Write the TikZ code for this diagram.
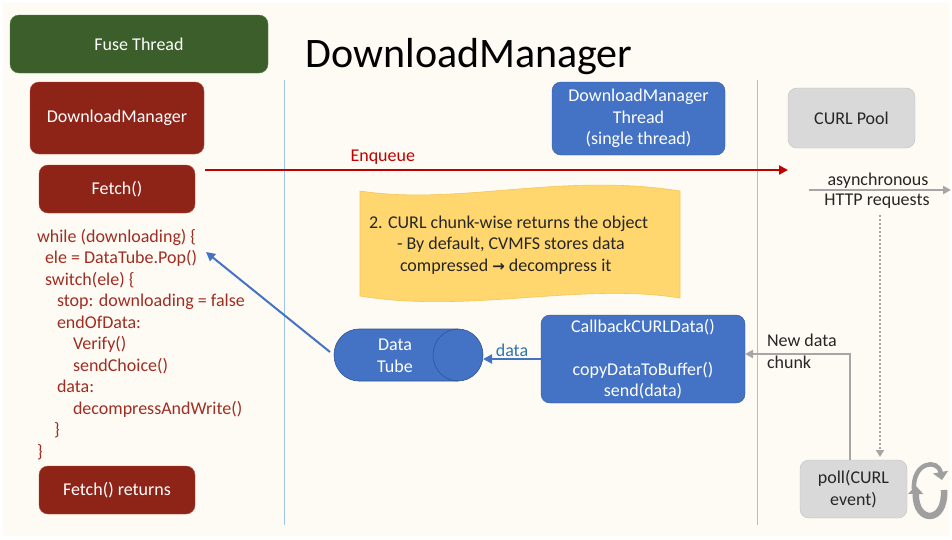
\documentclass[tikz,border=0pt]{standalone}
\usepackage{fontspec}
\setmainfont{Carlito}
\newfontfamily\symfont{DejaVu Sans}
\usetikzlibrary{arrows.meta}
\definecolor{bgc}{HTML}{FDFBF3}
\definecolor{fgreen}{HTML}{3B5E2A}
\definecolor{fgreenb}{HTML}{5A7E45}
\definecolor{dred}{HTML}{8E2318}
\definecolor{dredb}{HTML}{B0473A}
\definecolor{codered}{HTML}{A02D23}
\definecolor{enqred}{HTML}{C00000}
\definecolor{mblue}{HTML}{4472C4}
\definecolor{mblueb}{HTML}{2F5597}
\definecolor{lblue}{HTML}{2E75B6}
\definecolor{vline}{HTML}{9DC3E6}
\definecolor{gbox}{HTML}{D9D9D9}
\definecolor{gboxb}{HTML}{BFBFBF}
\definecolor{garrow}{HTML}{A6A6A6}
\definecolor{dtext}{HTML}{262626}
\definecolor{wave}{HTML}{FFD76E}
\definecolor{waveb}{HTML}{F5C65A}
\begin{document}
\begin{tikzpicture}[x=1pt,y=-1pt,
  every node/.style={font=\fontsize{18}{21.5}\selectfont, inner sep=0pt, outer sep=0pt},
  rbox/.style={rounded corners=9pt, align=center},
  greenbox/.style={rbox, fill=fgreen, draw=fgreenb, text=white},
  redbox/.style={rbox, fill=dred, draw=dredb, text=white},
  bluebox/.style={rbox, fill=mblue, draw=mblueb, text=white},
  graybox/.style={rbox, fill=gbox, draw=gboxb, text=dtext},
  codeline/.style={anchor=base west, text=codered},
  yline/.style={anchor=base west, text=black!85},
  redarrow/.style={draw=enqred, line width=2pt, -{Triangle[length=9pt,width=9pt]}},
  grayarrow/.style={draw=garrow, line width=2pt, -{Triangle[length=8pt,width=8pt]}},
  bluearrow/.style={draw=mblue, line width=2pt, -{Triangle[length=9pt,width=9pt]}},
  cyc/.style={draw=gray!75, -{Triangle[length=8pt,width=15pt]}},
  sepline/.style={draw=vline, line width=1pt}
]
\useasboundingbox (0,0) rectangle (952,539);
\fill[white] (0,0) rectangle (952,539);
\fill[bgc] (3,3) rectangle (949,536);

% separators
\coordinate (v1t) at (284,80); \coordinate (v1b) at (284,525);
\coordinate (v2t) at (757,80); \coordinate (v2b) at (757,525);
\draw[sepline] (v1t) -- (v1b);
\draw[sepline] (v2t) -- (v2b);

% title
\node (title) at (469,57) {\fontsize{42}{48}\selectfont DownloadManager};

% left column
\node[greenbox, minimum width=258pt, minimum height=58pt] (fuse) at (139,44) {Fuse Thread};
\node[redbox, minimum width=174pt, minimum height=72pt] (dm) at (117,118) {DownloadManager};
\node[redbox, minimum width=156pt, minimum height=48pt] (fetch) at (117,189) {Fetch()};
\node[redbox, minimum width=156pt, minimum height=48pt] (fetchret) at (117,490) {Fetch() returns};

\node[codeline] (c1)  at (37,242)   {while (downloading) \{};
\node[codeline] (c2)  at (45,263.5) {ele = DataTube.Pop()};
\node[codeline] (c3)  at (45,285)   {switch(ele) \{};
\node[codeline] (c4)  at (57,306.5) {stop: downloading = false};
\node[codeline] (c5)  at (57,328)   {endOfData:};
\node[codeline] (c6)  at (73,349.5) {Verify()};
\node[codeline] (c7)  at (73,371)   {sendChoice()};
\node[codeline] (c8)  at (57,392.5) {data:};
\node[codeline] (c9)  at (73,414)   {decompressAndWrite()};
\node[codeline] (c10) at (54,435.5) {\}};
\node[codeline] (c11) at (37,457)   {\}};

% middle column
\node[bluebox, minimum width=173pt, minimum height=73pt] (dmt) at (638.5,118.5)
  {DownloadManager\\Thread\\(single thread)};

% wave banner
\fill[wave, draw=waveb, line width=0.6pt]
  (360,191) .. controls (460,206) and (560,172) .. (680,191)
  -- (680,298) .. controls (580,282) and (470,314) .. (360,296) -- cycle;
\node[yline] (w1) at (369,228) {2. CURL chunk-wise returns the object};
\node[yline] (w2) at (397,249.5) {- By default, CVMFS stores data};
\node[yline] (w3) at (400,271) {compressed {\symfont\bfseries\fontsize{15}{18}\selectfont →} decompress it};

\node[bluebox, minimum width=204pt, minimum height=88pt] (cb) at (643,359)
  {CallbackCURLData()\\[21.5pt]copyDataToBuffer()\\send(data)};

% data tube (horizontal cylinder)
\filldraw[fill=mblue, draw=mblueb, line width=0.6pt]
  (359,329) -- (458,329) arc[start angle=90, end angle=-90, x radius=25, y radius=-26]
  -- (359,381) arc[start angle=-90, end angle=-270, x radius=25, y radius=-26] -- cycle;
\draw[mblueb, line width=0.6pt] (458,329) arc[start angle=90, end angle=270, x radius=25, y radius=-26];
\node[minimum width=149pt, minimum height=52pt] (tube) at (408.5,355) {};
\node[text=white, align=center] (tubetxt) at (395,356) {Data\\Tube};

% right column
\node[graybox, minimum width=127pt, minimum height=60pt] (pool) at (851.5,118) {CURL Pool};
\node[graybox, minimum width=107pt, minimum height=58pt] (poll) at (853.5,489) {poll(CURL\\event)};

% connectors
\coordinate (enqS) at (205,170); \coordinate (enqE) at (788,170);
\draw[redarrow] (enqS) -- (enqE) node[pos=0.305, above=6pt, text=enqred] (enqlbl) {Enqueue};

\coordinate (httpS) at (809,190); \coordinate (httpE) at (951,190);
\draw[grayarrow] (httpS) -- (httpE);
\node[text=dtext] (async) at (878,180.5) {asynchronous};
\node[text=dtext] (httpreq) at (877,201) {HTTP requests};

\coordinate (dotS) at (880,215);
\draw[draw=garrow, line width=2.5pt, dash pattern=on 2pt off 2pt, -{Triangle[length=7pt,width=8pt]}] (dotS) -- ([yshift=3pt]dotS |- poll.north);

\draw[grayarrow] ([xshift=-3.5pt]poll.north) |- ([yshift=5pt]cb.east);
\node[text=dtext, align=left, anchor=north west] (newdata) at (767,334) {New data\\chunk};

\draw[bluearrow] (cb.west) -- (cb.west -| tube.east) node[midway, above=2pt, text=lblue] (datalbl) {data};

\coordinate (popEnd) at (206,252);
\draw[bluearrow] ([xshift=-4pt,yshift=3pt]tube.west) -- (popEnd);

% cycle arrows next to poll
\coordinate (cy1s) at (914,490); \coordinate (cy1e) at (942,480);
\coordinate (cy2s) at (944,490); \coordinate (cy2e) at (916,486);
\draw[cyc, line width=4.5pt] (cy1s) .. controls (912,462) and (938,458) .. (cy1e);
\draw[cyc, line width=6.5pt] (cy2s) .. controls (946,524) and (915,524) .. (cy2e);
\end{tikzpicture}
\end{document}
